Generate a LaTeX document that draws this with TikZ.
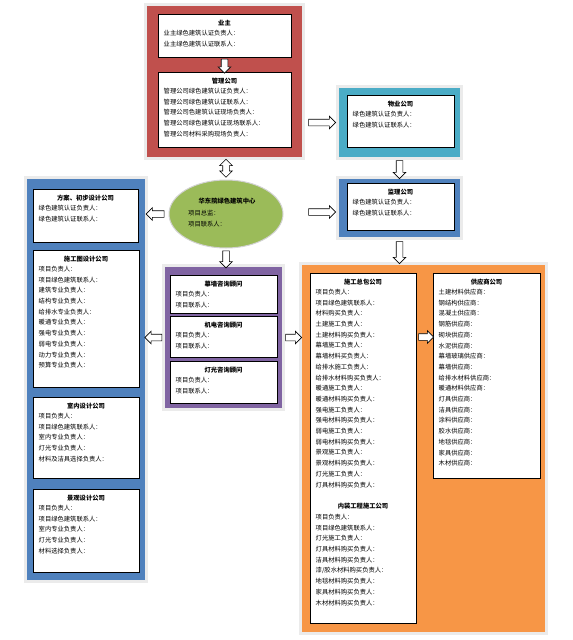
\documentclass[tikz,border=0pt]{standalone}
\usepackage{fontspec}
\newfontfamily\cjk{Noto Sans CJK SC}
\usetikzlibrary{shapes.geometric,shapes.arrows,calc}
\definecolor{cred}{HTML}{C0504D}
\definecolor{cteal}{HTML}{4BACC6}
\definecolor{cblue}{HTML}{4F81BD}
\definecolor{cgreen}{HTML}{9BBB59}
\definecolor{cpurple}{HTML}{8064A2}
\definecolor{corange}{HTML}{F79646}
\definecolor{cframe}{HTML}{EBEBEB}
\tikzset{
  panelbox/.style={rectangle, anchor=north west, inner sep=0pt, outer sep=0pt,
    preaction={draw=cframe, line width=6pt}},
  whitebox/.style={rectangle, draw=black, fill=white, line width=0.9pt, inner sep=0pt, outer sep=0pt, anchor=north west},
  titletext/.style={font=\cjk\bfseries\fontsize{6.3}{10.7}\selectfont, inner sep=0pt},
  listtext/.style={font=\cjk\fontsize{6.3}{10.7}\selectfont, align=left, inner sep=0pt, anchor=north west},
  sarr/.style={single arrow, draw=black, fill=white, line width=0.6pt, inner sep=3pt,
    single arrow head extend=3pt, minimum width=12pt, sloped, allow upside down},
  darr/.style={double arrow, draw=black, fill=white, line width=0.6pt, inner sep=3pt,
    double arrow head extend=3pt, minimum width=12pt, sloped, allow upside down},
}
\newcommand\orgbox[7]{%
  \node[whitebox, minimum width=#4pt, minimum height=#5pt] (#1) at (#2,#3) {};
  \node[titletext] (#1-t) at ($(#1.north)+(0,9)$) {#6};
  \node[listtext] (#1-l) at ($(#1.north west)+(5.5,16)$) {#7};
}
\begin{document}
\begin{tikzpicture}[x=1pt,y=-1pt]
\useasboundingbox[fill=white] (0,0) rectangle (573,640);
% panels
\node[panelbox, fill=cred, minimum width=155pt, minimum height=151pt] (pred) at (147,6) {};
\node[panelbox, fill=cteal, minimum width=121pt, minimum height=69pt] (pwy) at (339,88) {};
\node[panelbox, fill=cblue, minimum width=121pt, minimum height=58pt] (pjl) at (339,179) {};
\node[panelbox, fill=cblue, minimum width=118pt, minimum height=401pt] (pleft) at (27,179) {};
\node[panelbox, fill=cpurple, minimum width=117pt, minimum height=141pt] (ppu) at (165,267) {};
\node[panelbox, fill=corange, minimum width=243pt, minimum height=367pt] (por) at (302,265) {};
% boxes
\orgbox{ye}{158}{14}{133}{43}{业主}{业主绿色建筑认证负责人：\\业主绿色建筑认证联系人：}
\orgbox{gl}{158}{72}{133}{75}{管理公司}{管理公司绿色建筑认证负责人：\\管理公司绿色建筑认证联系人：\\管理公司色建筑认证现场负责人：\\管理公司绿色建筑认证现场联系人：\\管理公司材料采购现场负责人：}
\orgbox{wy}{347}{95}{107}{52}{物业公司}{绿色建筑认证负责人：\\绿色建筑认证联系人：}
\orgbox{jl}{347}{183}{107}{47}{监理公司}{绿色建筑认证负责人：\\绿色建筑认证联系人：}
\orgbox{fa}{33}{189}{105}{53}{方案、初步设计公司}{绿色建筑认证负责人：\\绿色建筑认证联系人：}
\orgbox{sj}{33}{250}{106}{137}{施工图设计公司}{项目负责人：\\项目绿色建筑联系人：\\建筑专业负责人：\\结构专业负责人：\\给排水专业负责人：\\暖通专业负责人：\\强电专业负责人：\\弱电专业负责人：\\动力专业负责人：\\预算专业负责人：}
\orgbox{sn}{33}{397}{106}{81}{室内设计公司}{项目负责人：\\项目绿色建筑联系人：\\室内专业负责人：\\灯光专业负责人：\\材料及洁具选择负责人：}
\orgbox{jg}{33}{489}{106}{83}{景观设计公司}{项目负责人：\\项目绿色建筑联系人：\\室内专业负责人：\\灯光专业负责人：\\材料选择负责人：}
\orgbox{mq}{170}{275}{107}{38}{幕墙咨询顾问}{项目负责人：\\项目联系人：}
\orgbox{jd}{170}{316}{107}{41}{机电咨询顾问}{项目负责人：\\项目联系人：}
\orgbox{dg}{170}{361}{107}{42}{灯光咨询顾问}{项目负责人：\\项目联系人：}
\orgbox{sg}{310}{273}{106}{350}{施工总包公司}{项目负责人：\\项目绿色建筑联系人：\\材料购买负责人：\\土建施工负责人：\\土建材料购买负责人：\\幕墙施工负责人：\\幕墙材料买负责人：\\给排水施工负责人：\\给排水材料购买负责人：\\暖通施工负责人：\\暖通材料购买负责人：\\强电施工负责人：\\强电材料购买负责人：\\弱电施工负责人：\\弱电材料购买负责人：\\景观施工负责人：\\景观材料购买负责人：\\灯光施工负责人：\\灯具材料购买负责人：}
\node[titletext] (sg-t2) at ($(sg.north)+(0,233)$) {内装工程施工公司};
\node[listtext] (sg-l2) at ($(sg.north west)+(5.5,241)$) {项目负责人：\\项目绿色建筑联系人：\\灯光施工负责人：\\灯具材料购买负责人：\\洁具材料购买负责人：\\漆/胶水材料购买负责人：\\地毯材料购买负责人：\\家具材料购买负责人：\\木材材料购买负责人：};
\orgbox{gy}{433}{273}{107}{205}{供应商公司}{土建材料供应商：\\钢结构供应商：\\混凝土供应商：\\钢筋供应商：\\砌块供应商：\\水泥供应商：\\幕墙玻璃供应商：\\幕墙供应商：\\给排水材料供应商：\\暖通材料供应商：\\灯具供应商：\\洁具供应商：\\涂料供应商：\\胶水供应商：\\地毯供应商：\\家具供应商：\\木材供应商：}
% ellipse
\node[ellipse, fill=cgreen, draw=white!65!gray, line width=1pt, minimum width=114pt, minimum height=68pt] (hd) at (226,214) {};
\node[titletext] (hd-t) at (227,201) {华东院绿色建筑中心};
\node[listtext] (hd-l) at (188,210) {项目总监：\\项目联系人：};
% connector helper coordinates
\coordinate (c5) at ($(pjl.west)+(0,4)$);
\coordinate (c11) at ($(sg.north east)+(0,64)$);
% arrows
\path (ye.south) -- (gl.north) node[sarr, midway, minimum height=14pt] (a1) {};
\path (hd.north |- pred.south) -- (hd.north) node[darr, midway, minimum height=18pt] (a2) {};
\path (pwy.west -| pred.east) -- (pwy.west) node[sarr, midway, minimum height=27pt] (a3) {};
\path (pjl.north |- pwy.south) -- (pjl.north) node[sarr, midway, minimum height=18pt] (a4) {};
\path (c5 -| pred.east) -- (c5) node[sarr, midway, minimum height=27pt] (a5) {};
\path (hd.west) -- (hd.west -| pleft.east) node[sarr, midway, minimum height=18pt] (a6) {};
\path (hd.south) -- (hd.south |- ppu.north) node[sarr, midway, minimum height=17pt] (a7) {};
\path (pjl.south) -- (pjl.south |- por.north) node[sarr, midway, minimum height=22pt] (a8) {};
\path (ppu.west) -- (ppu.west -| pleft.east) node[sarr, midway, minimum height=17pt] (a9) {};
\path (ppu.east) -- (ppu.east -| por.west) node[sarr, midway, minimum height=16pt] (a10) {};
\path (c11) -- (c11 -| gy.west) node[sarr, midway, minimum height=15pt] (a11) {};
\end{tikzpicture}
\end{document}
